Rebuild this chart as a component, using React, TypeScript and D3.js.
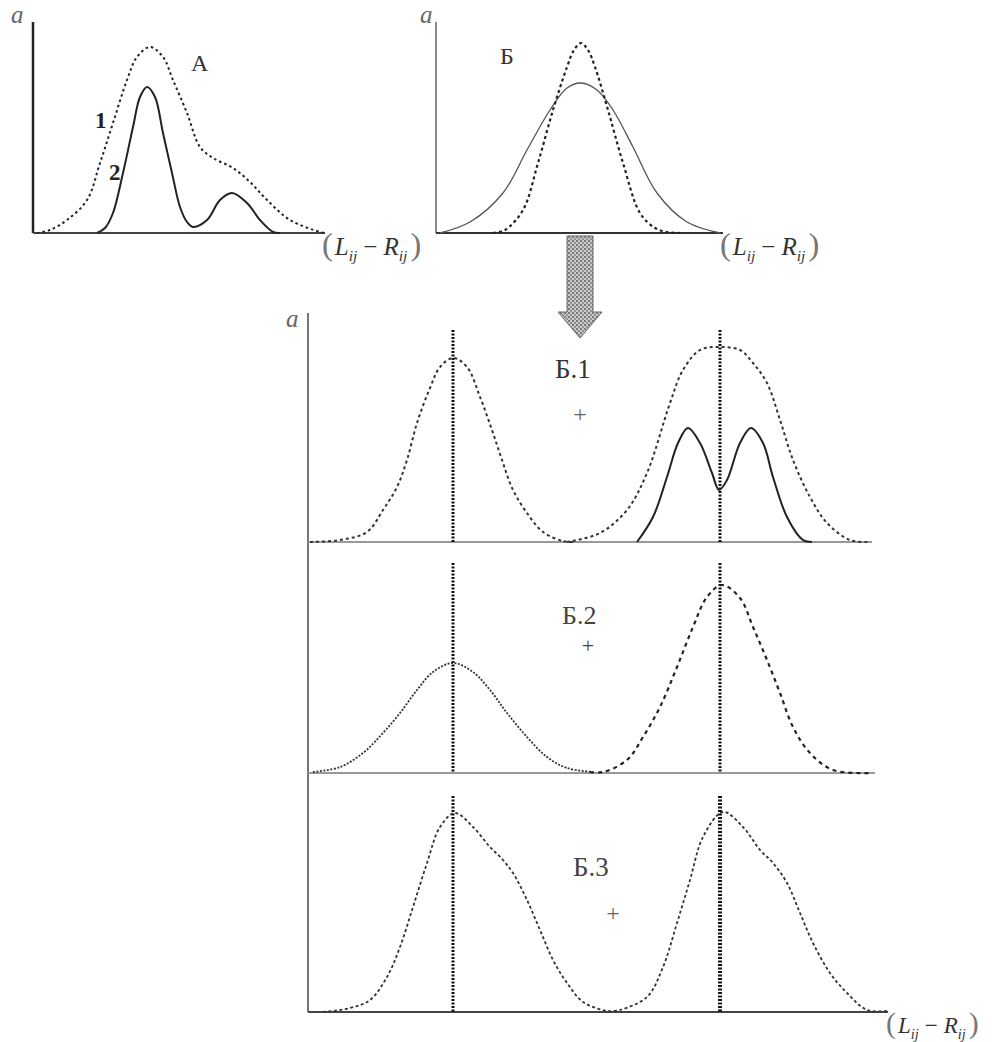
import React from "react";
import * as d3 from "d3";

type Pt = [number, number];

// Panel A: curve 1 (dotted) and curve 2 (solid)
const curveA1: Pt[] = [[4,0],[17,3],[34,13],[54,33],[67,70],[80,110],[94,153],[104,176],[117,186],[130,176],[140,153],[154,120],[167,86],[180,75],[200,65],[217,51],[234,33],[257,13],[287,1],[292,0]];
const curveA2: Pt[] = [[64,0],[72,5],[80,20],[90,60],[100,106],[107,136],[114,146],[122,136],[130,100],[139,60],[147,26],[154,11],[160,6],[174,13],[187,33],[199,40],[214,30],[227,13],[240,1],[247,0]];

// Panel Б: narrow dashed and wide solid
const curveBNarrow: Pt[] = [[57,0],[69,3],[87,23],[102,70],[117,123],[131,166],[138,183],[145,190],[152,183],[159,166],[172,123],[187,70],[204,20],[219,5],[231,1],[244,0]];
const curveBWide: Pt[] = [[4,0],[34,11],[67,40],[91,83],[114,123],[131,145],[145,150],[161,143],[177,123],[197,86],[221,40],[251,11],[284,0]];

// Б.1
const b1Left: Pt[] = [[2,0],[32,2],[59,10],[75,32],[89,55],[99,82],[109,119],[122,154],[132,175],[145,184],[159,175],[172,145],[184,112],[194,82],[205,52],[219,29],[235,10],[255,1],[267,0]];
const b1RightBroad: Pt[] = [[259,0],[292,9],[319,32],[339,69],[362,139],[375,172],[392,192],[411,195],[432,192],[445,179],[459,159],[472,122],[485,82],[502,45],[519,19],[542,2],[560,0]];
const b1RightBimodal: Pt[] = [[329,0],[345,25],[359,65],[370,99],[380,114],[392,99],[404,69],[411,52],[419,62],[432,99],[443,114],[455,99],[465,65],[479,25],[495,2],[504,0]];

// Б.2
const b2Left: Pt[] = [[5,1],[32,6],[55,20],[75,40],[92,60],[109,83],[125,101],[145,110],[165,101],[182,83],[199,60],[219,36],[239,16],[259,5],[285,1]];
const b2Right: Pt[] = [[282,1],[295,1],[319,13],[335,36],[352,66],[369,106],[385,146],[399,176],[414,188],[432,175],[445,146],[459,113],[472,80],[485,46],[502,20],[525,3],[564,0]];

// Б.3
const b3Left: Pt[] = [[15,0],[42,4],[62,12],[79,35],[92,65],[105,105],[119,149],[132,185],[147,199],[165,185],[182,165],[195,152],[205,139],[219,112],[232,82],[245,52],[259,29],[275,10],[299,1],[306,1]];
const b3Right: Pt[] = [[306,1],[312,2],[339,15],[355,45],[369,89],[382,132],[395,175],[415,200],[435,185],[452,162],[465,149],[479,129],[492,99],[505,69],[522,39],[539,19],[559,2],[579,1]];

// Peak markers (x positions in lower panel units) and their heights
const peakX: number[] = [145, 412];
const markerTop: number[] = [212, 210, 216];

const panelLabels: string[] = ["Б.1", "Б.2", "Б.3"];

const SERIF = "'Liberation Serif', 'DejaVu Serif', serif";

const xA = d3.scaleLinear().domain([0, 292]).range([33, 325]);
const yA = d3.scaleLinear().domain([0, 211]).range([233, 22]);
const xB = d3.scaleLinear().domain([0, 287]).range([436, 723]);
const yB = d3.scaleLinear().domain([0, 211]).range([233, 22]);
const xL = d3.scaleLinear().domain([0, 580]).range([308, 888]);
const yL = [
  d3.scaleLinear().domain([0, 229]).range([542, 313]),
  d3.scaleLinear().domain([0, 231]).range([773, 542]),
  d3.scaleLinear().domain([0, 239]).range([1012, 773]),
];

function path(data: Pt[], xs: d3.ScaleLinear<number, number>, ys: d3.ScaleLinear<number, number>) {
  return d3
    .line<Pt>()
    .x((d) => xs(d[0]))
    .y((d) => Math.min(ys(d[1]), ys(0)))
    .curve(d3.curveCatmullRom.alpha(0.5))(data) || "";
}

function AxisLabel({ x, y, size }: { x: number; y: number; size: number }) {
  const sub = size * 0.62;
  return (
    <text x={x} y={y} fontFamily={SERIF} fontSize={size} fill="#333">
      <tspan fontSize={size * 1.3} fill="#777">(</tspan>
      <tspan fontStyle="italic" dx={2}>L</tspan>
      <tspan fontStyle="italic" fontSize={sub} dy={size * 0.25}>ij</tspan>
      <tspan dy={-size * 0.25} dx={6}>−</tspan>
      <tspan fontStyle="italic" dx={6}>R</tspan>
      <tspan fontStyle="italic" fontSize={sub} dy={size * 0.25}>ij</tspan>
      <tspan fontSize={size * 1.3} dy={-size * 0.25} dx={3} fill="#777">)</tspan>
    </text>
  );
}

export default function App() {
  const dotted = "3,3";
  return (
    <svg
      width={1000}
      height={1042}
      style={{ position: "absolute", left: 0, top: 0, background: "#fff" }}
    >
      <defs>
        <pattern id="hatch" width="4" height="4" patternUnits="userSpaceOnUse">
          <rect width="4" height="4" fill="#c8c8c8" />
          <circle cx="1" cy="1" r="0.9" fill="#555" />
          <circle cx="3" cy="3" r="0.9" fill="#777" />
        </pattern>
      </defs>

      {/* Panel A */}
      <line x1={xA(0)} y1={yA(211)} x2={xA(0)} y2={yA(0)} stroke="#222" strokeWidth={2.5} />
      <line x1={xA(0)} y1={yA(0)} x2={xA(292)} y2={yA(0)} stroke="#444" strokeWidth={2} />
      <path d={path(curveA1, xA, yA)} fill="none" stroke="#222" strokeWidth={2} strokeDasharray="2.5,3" />
      <path d={path(curveA2, xA, yA)} fill="none" stroke="#222" strokeWidth={2} />
      <text x={11} y={23} fontFamily={SERIF} fontStyle="italic" fontSize={25} fill="#666">a</text>
      <text x={191} y={71} fontFamily={SERIF} fontSize={24} fill="#333">А</text>
      <text x={95} y={128} fontFamily={SERIF} fontWeight="bold" fontSize={23} fill="#222">1</text>
      <text x={109} y={180} fontFamily={SERIF} fontWeight="bold" fontSize={23} fill="#222">2</text>
      <AxisLabel x={322} y={255} size={25} />

      {/* Panel Б */}
      <line x1={xB(0)} y1={yB(211)} x2={xB(0)} y2={yB(0)} stroke="#666" strokeWidth={1.5} />
      <line x1={xB(0)} y1={yB(0)} x2={xB(287)} y2={yB(0)} stroke="#333" strokeWidth={2} />
      <path d={path(curveBWide, xB, yB)} fill="none" stroke="#555" strokeWidth={1.3} />
      <path d={path(curveBNarrow, xB, yB)} fill="none" stroke="#222" strokeWidth={2.2} strokeDasharray="3,3" />
      <text x={420} y={23} fontFamily={SERIF} fontStyle="italic" fontSize={25} fill="#666">a</text>
      <text x={500} y={64} fontFamily={SERIF} fontSize={24} fill="#333">Б</text>
      <AxisLabel x={720} y={255} size={25} />

      {/* Arrow */}
      <path
        d="M567,236 L593,236 L593,312 L602,312 L580,338 L558,312 L567,312 Z"
        fill="url(#hatch)"
        stroke="#666"
        strokeWidth={1}
      />

      {/* Lower panels */}
      <line x1={xL(0)} y1={313} x2={xL(0)} y2={yL[2](0)} stroke="#777" strokeWidth={2} />
      <text x={286} y={327} fontFamily={SERIF} fontStyle="italic" fontSize={25} fill="#666">a</text>
      <line x1={xL(0)} y1={yL[0](0)} x2={xL(564)} y2={yL[0](0)} stroke="#999" strokeWidth={2} />
      <line x1={xL(0)} y1={yL[1](0)} x2={xL(567)} y2={yL[1](0)} stroke="#999" strokeWidth={2} />
      <line x1={xL(0)} y1={yL[2](0)} x2={xL(580)} y2={yL[2](0)} stroke="#444" strokeWidth={2} />

      {yL.map((ys, i) =>
        peakX.map((px, j) => (
          <line
            key={`v${i}-${j}`}
            x1={xL(px)}
            x2={xL(px)}
            y1={ys(markerTop[i])}
            y2={ys(0)}
            stroke="#111"
            strokeWidth={i === 2 && j === 1 ? 4 : 3}
            strokeDasharray="2,1.5"
          />
        ))
      )}

      {/* Б.1 */}
      <path d={path(b1Left, xL, yL[0])} fill="none" stroke="#333" strokeWidth={2} strokeDasharray={dotted} />
      <path d={path(b1RightBroad, xL, yL[0])} fill="none" stroke="#333" strokeWidth={2} strokeDasharray={dotted} />
      <path d={path(b1RightBimodal, xL, yL[0])} fill="none" stroke="#222" strokeWidth={2} />

      {/* Б.2 */}
      <path d={path(b2Left, xL, yL[1])} fill="none" stroke="#333" strokeWidth={1.8} strokeDasharray="2,1.5" />
      <path d={path(b2Right, xL, yL[1])} fill="none" stroke="#222" strokeWidth={2.2} strokeDasharray="4,4" />

      {/* Б.3 */}
      <path d={path(b3Left, xL, yL[2])} fill="none" stroke="#333" strokeWidth={1.8} strokeDasharray="3,2.5" />
      <path d={path(b3Right, xL, yL[2])} fill="none" stroke="#333" strokeWidth={1.8} strokeDasharray="3,2.5" />

      {/* Labels */}
      <text x={555} y={378} fontFamily={SERIF} fontSize={27} fill="#333">{panelLabels[0]}</text>
      <text x={580} y={422} fontFamily={SERIF} fontSize={24} fill="#666" textAnchor="middle">+</text>
      <text x={562} y={624} fontFamily={SERIF} fontSize={26} fill="#444">{panelLabels[1]}</text>
      <text x={588} y={653} fontFamily={SERIF} fontSize={22} fill="#444" textAnchor="middle">+</text>
      <text x={573} y={876} fontFamily={SERIF} fontSize={27} fill="#444">{panelLabels[2]}</text>
      <text x={613} y={921} fontFamily={SERIF} fontSize={24} fill="#666" textAnchor="middle">+</text>

      <AxisLabel x={886} y={1033} size={23} />
    </svg>
  );
}
